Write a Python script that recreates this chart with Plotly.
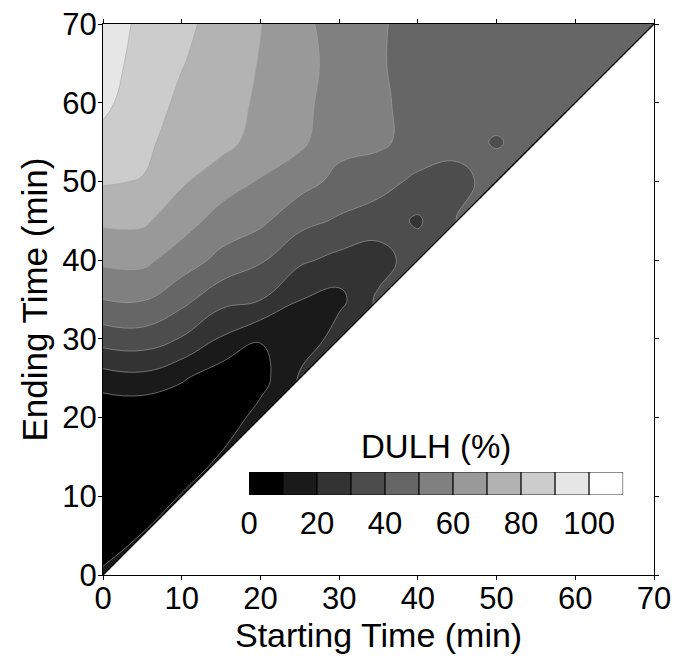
import plotly.graph_objects as go

# Starting and ending times of the analysed interval (min)
start_min = [0, 5, 10, 15, 20, 25, 30, 35, 40, 45, 50, 55, 60, 65, 70]
end_min = [0, 5, 10, 15, 20, 25, 30, 35, 40, 45, 50, 55, 60, 65, 70]

# DULH (%) per ending time (one row each) and starting time (columns);
# None where the start would come after the end.
N = None
dulh_end_00 = [12, N, N, N, N, N, N, N, N, N, N, N, N, N, N]
dulh_end_05 = [3, 10.6, N, N, N, N, N, N, N, N, N, N, N, N, N]
dulh_end_10 = [1, 1.5, 10.8, N, N, N, N, N, N, N, N, N, N, N, N]
dulh_end_15 = [1, 1, 1.5, 11, N, N, N, N, N, N, N, N, N, N, N]
dulh_end_20 = [1, 1, 1, 3, 14, N, N, N, N, N, N, N, N, N, N]
dulh_end_25 = [15.4, 17, 11.2, 4, 6, 21.5, N, N, N, N, N, N, N, N, N]
dulh_end_30 = [34.3, 35.4, 29.3, 19, 10.5, 10.3, 26, N, N, N, N, N, N, N, N]
dulh_end_35 = [50, 50.8, 43.2, 33.4, 30.3, 20.2, 17, 32, N, N, N, N, N, N, N]
dulh_end_40 = [62, 62.5, 55, 47.3, 41.2, 31.8, 27.2, 25, 36, N, N, N, N, N, N]
dulh_end_45 = [71.7, 71.7, 64.4, 56, 52.1, 43.3, 38.7, 35.5, 28.5, 40.5, N, N, N, N, N]
dulh_end_50 = [81, 79.5, 71.2, 64.9, 59.2, 53.8, 47.3, 43.4, 38, 36, 45, N, N, N, N]
dulh_end_55 = [87.5, 83, 74.6, 73, 66.5, 62, 53, 52, 46, 44, 39, 44.5, N, N, N]
dulh_end_60 = [92, 85, 78, 74, 68.5, 63, 55, 51.5, 47, 45.5, 45, 44.5, 44, N, N]
dulh_end_65 = [93.5, 87, 80.5, 75, 69.5, 64, 56, 50.8, 47, 46, 45.5, 45, 45, 45, N]
dulh_end_70 = [95, 88, 82, 77, 70.3, 62.5, 56, 51, 47, 46, 46, 45.5, 45.5, 45.5, 46]

dulh = [
    dulh_end_00, dulh_end_05, dulh_end_10, dulh_end_15, dulh_end_20,
    dulh_end_25, dulh_end_30, dulh_end_35, dulh_end_40, dulh_end_45,
    dulh_end_50, dulh_end_55, dulh_end_60, dulh_end_65, dulh_end_70,
]

# Colour classes: lower bound of each 10 % band, and the labelled values
band_lower = [0, 10, 20, 30, 40, 50, 60, 70, 80, 90, 100]
band_ticks = [0, 20, 40, 60, 80, 100]
band_step = 10

FONT = "Liberation Sans, Arial, sans-serif"


def grey(v, vmax=100):
    g = round(255 * v / vmax)
    return f"rgb({g},{g},{g})"


t0, t1 = start_min[0], start_min[-1]

fig = go.Figure()

# Filled contour map, black (low) to white (high)
fig.add_trace(go.Contour(
    x=start_min, y=end_min, z=dulh,
    colorscale=[[0, grey(0)], [1, grey(100)]],
    contours=dict(start=band_lower[1], end=band_lower[-1], size=band_step,
                  coloring="fill"),
    line=dict(color="rgb(165,165,165)", width=0.6, smoothing=1.3),
    showscale=False, hoverinfo="skip",
))

# Blank out the region where start > end, and draw the start = end diagonal
fig.add_trace(go.Scatter(
    x=[t0, t1, t1, t0], y=[t0, t0, t1, t0], mode="lines", fill="toself",
    fillcolor="white", line=dict(width=0), hoverinfo="skip",
))
fig.add_trace(go.Scatter(
    x=[t0, t1], y=[t0, t1], mode="lines",
    line=dict(color="black", width=1.3), hoverinfo="skip",
))

# Key: one box per 10 % band
fig.add_trace(go.Bar(
    x=[b + band_step / 2 for b in band_lower], y=[1] * len(band_lower),
    width=band_step, xaxis="x2", yaxis="y2",
    marker=dict(color=[grey(b) for b in band_lower],
                line=dict(color="black", width=1)),
    hoverinfo="skip",
))

axis_common = dict(
    range=[t0, t1], dtick=10, tick0=0, ticks="outside", ticklen=4,
    tickwidth=1, tickcolor="black", showline=True, linecolor="black",
    linewidth=1, mirror="ticks", showgrid=False, zeroline=False,
    tickfont=dict(size=31),
)

fig.update_layout(
    width=678, height=660,
    margin=dict(l=103, r=24, t=24, b=85, autoexpand=False),
    paper_bgcolor="white", plot_bgcolor="white",
    font=dict(family=FONT, size=31, color="black"),
    showlegend=False,
    xaxis=dict(axis_common, ticklabelstandoff=-8),
    yaxis=dict(axis_common, ticklabelstandoff=-5),
    xaxis2=dict(domain=[0.265, 0.944], anchor="y2",
                range=[band_lower[0], band_lower[-1] + band_step],
                tickvals=band_ticks, ticks="outside", ticklen=1,
                tickcolor="rgba(0,0,0,0)", showline=False, showgrid=False,
                zeroline=False, tickfont=dict(size=31)),
    yaxis2=dict(domain=[0.145, 0.187], anchor="x2", range=[0, 1],
                visible=False),
    annotations=[
        dict(text="DULH (%)", x=0.5, y=1, xref="x2 domain", yref="y2 domain",
             xanchor="center", yanchor="bottom", yshift=5, showarrow=False,
             font=dict(size=33)),
        dict(text="Starting Time (min)", x=0.5, y=-0.1093, xref="paper",
             yref="paper", xanchor="center", yanchor="middle",
             showarrow=False, font=dict(size=34)),
        dict(text="Ending Time (min)", x=-0.1252, y=0.5, xref="paper",
             yref="paper", xanchor="center", yanchor="middle",
             textangle=-90, showarrow=False, font=dict(size=35)),
    ],
)

fig.write_html("out.html")
